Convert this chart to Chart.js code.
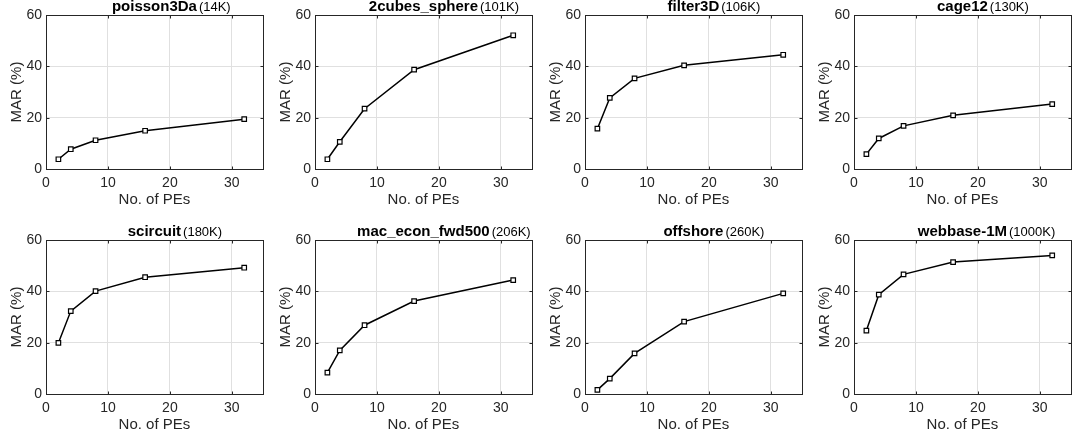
<!DOCTYPE html>
<html lang="en">
<head>
<meta charset="UTF-8">
<title>MAR vs. number of PEs</title>
<script src="https://cdn.jsdelivr.net/npm/chart.js"></script>
<style>
  body { margin: 0; background: #fff; overflow: hidden; }
  #panels { position: relative; width: 1073px; height: 442px; overflow: hidden; }
  #panels canvas { position: absolute; }
</style>
</head>
<body>
<div id="panels"></div>
<script>
// number of processing elements (x values shared by every panel)
const peCounts = [2, 4, 8, 16, 32];

const matrixNames = ['poisson3Da', '2cubes_sphere', 'filter3D', 'cage12',
                     'scircuit', 'mac_econ_fwd500', 'offshore', 'webbase-1M'];
const matrixSizes = ['(14K)', '(101K)', '(106K)', '(130K)',
                     '(180K)', '(206K)', '(260K)', '(1000K)'];

// MAR (%) per matrix
const marPoisson3Da   = [3.8, 7.7, 11.2, 14.9, 19.4];
const mar2cubesSphere = [3.8, 10.6, 23.5, 38.7, 52.1];
const marFilter3D     = [15.7, 27.7, 35.3, 40.4, 44.5];
const marCage12       = [5.8, 11.9, 16.8, 20.9, 25.3];
const marScircuit     = [19.9, 32.3, 40.1, 45.5, 49.2];
const marMacEcon      = [8.3, 17.0, 26.8, 36.2, 44.4];
const marOffshore     = [1.6, 6.0, 15.8, 28.2, 39.2];
const marWebbase      = [24.7, 38.7, 46.6, 51.4, 54.0];

const marSeries = [marPoisson3Da, mar2cubesSphere, marFilter3D, marCage12,
                   marScircuit, marMacEcon, marOffshore, marWebbase];

const xTicks = [0, 10, 20, 30];
const yTicks = [0, 20, 40, 60];

const FONT = '"Liberation Sans", Arial, Helvetica, sans-serif';
const AXIS_COLOR = '#262626';

Chart.defaults.font.family = FONT;
Chart.defaults.color = AXIS_COLOR;

// box around the plot, inward tick marks and the "name (size)" title
const framePlugin = {
  id: 'frame',
  afterDraw(chart, args, opts) {
    const { ctx, chartArea: a, scales } = chart;
    ctx.save();
    ctx.strokeStyle = AXIS_COLOR;
    ctx.lineWidth = 1;
    const l = Math.round(a.left) + 0.5, r = Math.round(a.right) + 0.5;
    const t = Math.round(a.top) + 0.5, b = Math.round(a.bottom) + 0.5;
    ctx.strokeRect(l, t, r - l, b - t);

    const len = 3;
    ctx.beginPath();
    xTicks.forEach(v => {
      const px = Math.round(scales.x.getPixelForValue(v)) + 0.5;
      ctx.moveTo(px, b); ctx.lineTo(px, b - len);
      ctx.moveTo(px, t); ctx.lineTo(px, t + len);
    });
    yTicks.forEach(v => {
      const py = Math.round(scales.y.getPixelForValue(v)) + 0.5;
      ctx.moveTo(l, py); ctx.lineTo(l + len, py);
      ctx.moveTo(r, py); ctx.lineTo(r - len, py);
    });
    ctx.stroke();

    // bold matrix name centred on the plot, size appended in normal weight
    const cx = (a.left + a.right) / 2;
    const baseY = a.top - 4;
    ctx.fillStyle = '#000';
    ctx.textBaseline = 'alphabetic';
    ctx.textAlign = 'left';
    ctx.font = 'bold 15px ' + FONT;
    const w = ctx.measureText(opts.name).width;
    ctx.fillText(opts.name, cx - w / 2, baseY);
    ctx.font = '13px ' + FONT;
    ctx.fillText(opts.size, cx + w / 2 + 2, baseY);
    ctx.restore();
  }
};

const CANVAS_W = 268, CANVAS_H = 221;
const colLefts = [0, 269, 539, 808];
const rowTops = [0, 225];

const holder = document.getElementById('panels');

matrixNames.forEach((name, i) => {
  const canvas = document.createElement('canvas');
  canvas.width = CANVAS_W;
  canvas.height = CANVAS_H;
  canvas.style.left = colLefts[i % 4] + 'px';
  canvas.style.top = rowTops[Math.floor(i / 4)] + 'px';
  holder.appendChild(canvas);

  new Chart(canvas.getContext('2d'), {
    type: 'scatter',
    data: {
      datasets: [{
        data: peCounts.map((p, k) => ({ x: p, y: marSeries[i][k] })),
        showLine: true,
        borderColor: '#000',
        borderWidth: 1.5,
        pointStyle: 'rect',
        pointRadius: 3.2,
        pointBorderWidth: 1.2,
        pointBorderColor: '#000',
        pointBackgroundColor: '#fff'
      }]
    },
    options: {
      responsive: false,
      animation: false,
      devicePixelRatio: 1,
      layout: { padding: { left: 0, top: 15, right: 1, bottom: 0 } },
      plugins: {
        legend: { display: false },
        tooltip: { enabled: false },
        frame: { name: name, size: matrixSizes[i] }
      },
      scales: {
        x: {
          type: 'linear',
          min: 0,
          max: 35,
          afterBuildTicks: s => { s.ticks = xTicks.map(v => ({ value: v })); },
          afterFit: s => { s.height = 52; },
          border: { display: false },
          grid: { color: '#e0e0e0', drawTicks: false },
          ticks: { padding: 6, font: { size: 14 }, color: AXIS_COLOR, maxRotation: 0 },
          title: { display: true, text: 'No. of PEs', font: { size: 15 }, color: AXIS_COLOR,
                   padding: { top: 0, bottom: 12 } }
        },
        y: {
          min: 0,
          max: 60,
          afterBuildTicks: s => { s.ticks = yTicks.map(v => ({ value: v })); },
          afterFit: s => { s.width = 46; },
          border: { display: false },
          grid: { color: '#e0e0e0', drawTicks: false },
          ticks: { padding: 4, font: { size: 14 }, color: AXIS_COLOR },
          title: { display: true, text: 'MAR (%)', font: { size: 15 }, color: AXIS_COLOR,
                   padding: { top: 8, bottom: 0 } }
        }
      }
    },
    plugins: [framePlugin]
  });
});
</script>
</body>
</html>
